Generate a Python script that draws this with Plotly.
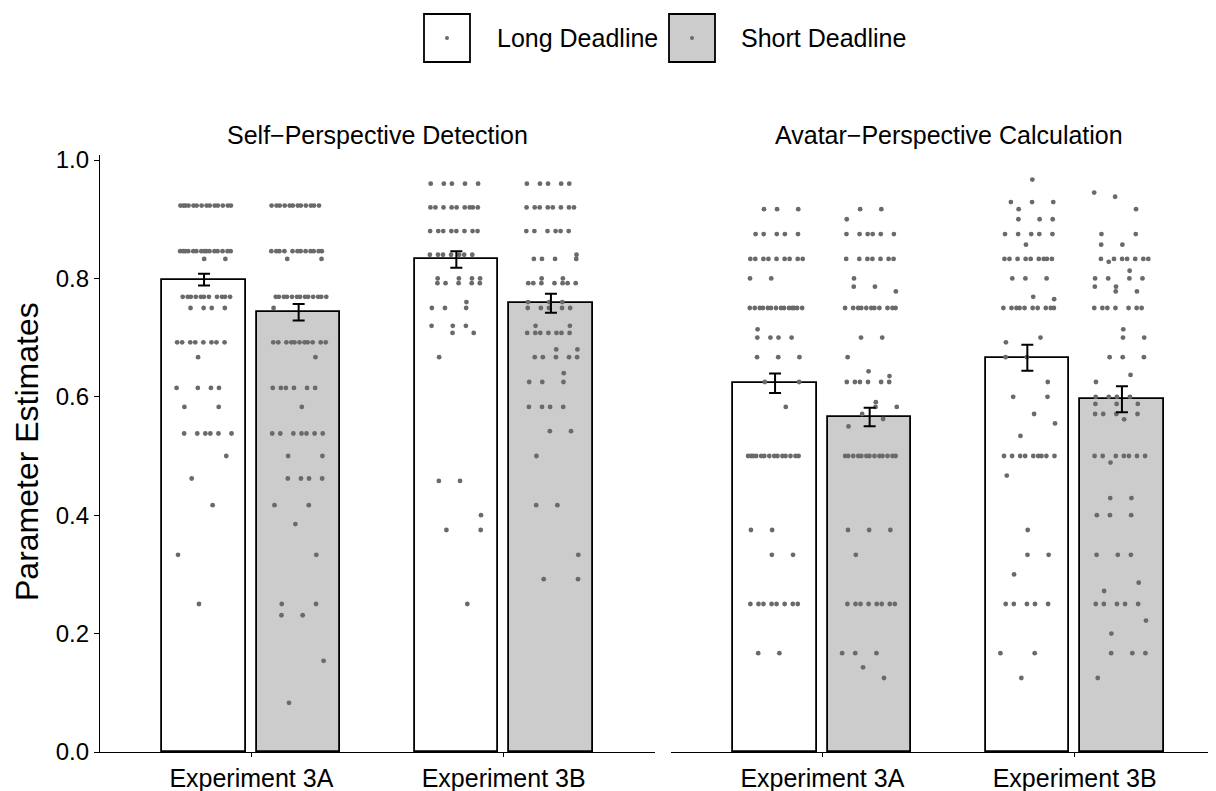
import plotly.graph_objects as go

# ---------------- data ----------------
FACETS = ["Self\u2212Perspective Detection", "Avatar\u2212Perspective Calculation"]
EXPERIMENTS = ["Experiment 3A", "Experiment 3B"]
CONDITIONS = ["Long Deadline", "Short Deadline"]

# bar means and standard errors  [Exp 3A, Exp 3B]
SELF_LONG_MEAN = [0.798, 0.832]
SELF_SHORT_MEAN = [0.743, 0.758]
SELF_LONG_SE = [0.010, 0.014]
SELF_SHORT_SE = [0.014, 0.016]
AVATAR_LONG_MEAN = [0.623, 0.666]
AVATAR_SHORT_MEAN = [0.566, 0.596]
AVATAR_LONG_SE = [0.0165, 0.022]
AVATAR_SHORT_SE = [0.0157, 0.022]

# individual estimates: distinct values and how many participants at each
SELF_3A_LONG_VALS = [0.923, 0.846, 0.833, 0.769, 0.75, 0.692, 0.667, 0.615, 0.583, 0.538, 0.5, 0.462, 0.417, 0.333, 0.25]
SELF_3A_LONG_CNT = [14, 15, 2, 11, 4, 8, 1, 4, 2, 6, 1, 1, 1, 1, 1]
SELF_3A_SHORT_VALS = [0.923, 0.846, 0.833, 0.769, 0.75, 0.692, 0.667, 0.615, 0.583, 0.538, 0.5, 0.462, 0.417, 0.385, 0.333, 0.25, 0.231, 0.154, 0.083]
SELF_3A_SHORT_CNT = [12, 12, 2, 13, 1, 11, 1, 6, 1, 7, 2, 4, 2, 1, 1, 2, 2, 1, 1]
SELF_3B_LONG_VALS = [0.96, 0.92, 0.88, 0.84, 0.80, 0.792, 0.76, 0.75, 0.72, 0.708, 0.667, 0.458, 0.40, 0.375, 0.25]
SELF_3B_LONG_CNT = [5, 9, 8, 7, 4, 5, 1, 3, 3, 2, 1, 2, 1, 2, 1]
SELF_3B_SHORT_VALS = [0.96, 0.92, 0.88, 0.84, 0.833, 0.80, 0.792, 0.76, 0.75, 0.72, 0.708, 0.68, 0.667, 0.64, 0.625, 0.583, 0.542, 0.50, 0.417, 0.333, 0.292]
SELF_3B_SHORT_CNT = [5, 8, 6, 1, 4, 2, 7, 3, 5, 2, 7, 2, 5, 1, 3, 4, 2, 1, 2, 1, 2]
AVATAR_3A_LONG_VALS = [0.917, 0.875, 0.833, 0.80, 0.75, 0.714, 0.70, 0.667, 0.625, 0.583, 0.5, 0.375, 0.333, 0.25, 0.167]
AVATAR_3A_LONG_CNT = [3, 5, 9, 2, 14, 1, 4, 3, 2, 1, 14, 2, 2, 8, 2]
AVATAR_3A_SHORT_VALS = [0.917, 0.90, 0.875, 0.833, 0.80, 0.786, 0.778, 0.75, 0.70, 0.667, 0.643, 0.635, 0.625, 0.591, 0.583, 0.571, 0.5625, 0.55, 0.5, 0.375, 0.333, 0.25, 0.167, 0.143, 0.125]
AVATAR_3A_SHORT_CNT = [2, 1, 6, 7, 1, 2, 1, 11, 2, 1, 1, 1, 6, 1, 2, 1, 1, 1, 13, 3, 1, 8, 3, 1, 1]
AVATAR_3B_LONG_VALS = [0.967, 0.929, 0.917, 0.90, 0.875, 0.857, 0.833, 0.80, 0.769, 0.765, 0.75, 0.70, 0.692, 0.667, 0.625, 0.60, 0.571, 0.555, 0.534, 0.5, 0.467, 0.375, 0.333, 0.30, 0.25, 0.167, 0.125]
AVATAR_3B_LONG_CNT = [1, 3, 1, 3, 5, 1, 9, 3, 1, 1, 10, 1, 1, 2, 1, 2, 1, 1, 1, 9, 1, 1, 2, 1, 5, 2, 1]
AVATAR_3B_SHORT_VALS = [0.945, 0.938, 0.917, 0.875, 0.857, 0.833, 0.828, 0.813, 0.80, 0.786, 0.778, 0.75, 0.714, 0.70, 0.667, 0.637, 0.625, 0.60, 0.588, 0.571, 0.562, 0.5, 0.489, 0.429, 0.40, 0.333, 0.286, 0.272, 0.25, 0.222, 0.20, 0.167, 0.125]
AVATAR_3B_SHORT_CNT = [1, 1, 1, 2, 2, 7, 1, 1, 4, 2, 2, 7, 1, 2, 3, 1, 1, 4, 3, 4, 1, 7, 1, 2, 3, 3, 1, 1, 5, 1, 1, 3, 1]

Y_TICKS = [0.0, 0.2, 0.4, 0.6, 0.8, 1.0]

# ---------------- styling / layout constants ----------------
PAGE_OFF = 8                      # default body margin of the html page
W, H = 1216 - PAGE_OFF, 791 - PAGE_OFF
ML, MR = 100 - PAGE_OFF, 0
MT = 155 - PAGE_OFF
MB = H - (752 - PAGE_OFF)
PW, PH = W - ML - MR, H - MT - MB
FONT = "Liberation Sans, Arial, sans-serif"
LONG_FILL, SHORT_FILL = "#ffffff", "#cccccc"
POINT_COLOR = "#6a6a6a"
GROUP_X = [1, 2]
DODGE = 0.1875
BAR_W = 0.33
JITTER_W = 0.22


def px_x(p):
    """page pixel x -> paper coordinate"""
    return (p - PAGE_OFF - ML) / PW


def px_y(p):
    """page pixel y -> paper coordinate"""
    return (H - MB - (p - PAGE_OFF)) / PH


def expand(vals, cnts):
    ys = []
    rows = []
    for r, (v, c) in enumerate(zip(vals, cnts)):
        ys += [v] * c
        rows += [(r, j) for j in range(c)]
    return ys, rows


def jitter(rows, center, seed):
    xs = []
    for r, j in rows:
        start = (seed + r * 0.377) % 1.0
        xs.append(center + ((start + j * 0.6180339887) % 1.0 - 0.5) * JITTER_W)
    return xs


fig = go.Figure()

panels = [
    ("x", "y", SELF_LONG_MEAN, SELF_SHORT_MEAN, SELF_LONG_SE, SELF_SHORT_SE,
     [(SELF_3A_LONG_VALS, SELF_3A_LONG_CNT), (SELF_3B_LONG_VALS, SELF_3B_LONG_CNT)],
     [(SELF_3A_SHORT_VALS, SELF_3A_SHORT_CNT), (SELF_3B_SHORT_VALS, SELF_3B_SHORT_CNT)]),
    ("x2", "y2", AVATAR_LONG_MEAN, AVATAR_SHORT_MEAN, AVATAR_LONG_SE, AVATAR_SHORT_SE,
     [(AVATAR_3A_LONG_VALS, AVATAR_3A_LONG_CNT), (AVATAR_3B_LONG_VALS, AVATAR_3B_LONG_CNT)],
     [(AVATAR_3A_SHORT_VALS, AVATAR_3A_SHORT_CNT), (AVATAR_3B_SHORT_VALS, AVATAR_3B_SHORT_CNT)]),
]

for pi, (xa, ya, lm, sm, lse, sse, lpts, spts) in enumerate(panels):
    lx = [g - DODGE for g in GROUP_X]
    sx = [g + DODGE for g in GROUP_X]
    fig.add_trace(go.Bar(x=lx, y=lm, width=BAR_W, xaxis=xa, yaxis=ya,
                         marker=dict(color=LONG_FILL, line=dict(color="black", width=1.8)),
                         showlegend=False, name=CONDITIONS[0]))
    fig.add_trace(go.Bar(x=sx, y=sm, width=BAR_W, xaxis=xa, yaxis=ya,
                         marker=dict(color=SHORT_FILL, line=dict(color="black", width=1.8)),
                         showlegend=False, name=CONDITIONS[1]))
    for gi in range(2):
        for ci, (pts, centers) in enumerate([(lpts, lx), (spts, sx)]):
            ys, rows = expand(*pts[gi])
            xs = jitter(rows, centers[gi], seed=0.13 + 0.29 * gi + 0.41 * ci + 0.17 * pi)
            fig.add_trace(go.Scatter(x=xs, y=ys, mode="markers", xaxis=xa, yaxis=ya,
                                     marker=dict(color=POINT_COLOR, size=4.8, line=dict(width=0)),
                                     showlegend=False, hoverinfo="y"))
    for centers, means, ses in [(lx, lm, lse), (sx, sm, sse)]:
        fig.add_trace(go.Scatter(x=centers, y=means, mode="markers", xaxis=xa, yaxis=ya,
                                 marker=dict(size=0.1, color="rgba(0,0,0,0)"),
                                 error_y=dict(type="data", array=ses, color="black",
                                              thickness=2, width=6),
                                 showlegend=False, hoverinfo="skip"))

left_dom = [0, px_x(655)]
right_dom = [px_x(671), 1]
units_per_px = 2.2 / (655 - 100)
right_max = 0.4 + (1216 - 671) * units_per_px

tickfont = dict(family=FONT, size=25, color="black")
common_x = dict(showgrid=False, zeroline=False, showline=True, linecolor="black", linewidth=1.4,
                ticks="outside", ticklen=4, tickwidth=1.4, tickcolor="black", automargin=False,
                tickvals=GROUP_X, ticktext=EXPERIMENTS, tickfont=tickfont)
fig.update_layout(
    width=W, height=H,
    margin=dict(l=ML, r=MR, t=MT, b=MB, autoexpand=False),
    paper_bgcolor="white", plot_bgcolor="white",
    barmode="overlay", bargap=0,
    font=dict(family=FONT, color="black"),
    xaxis=dict(domain=left_dom, range=[0.4, 2.6], anchor="y", **common_x),
    xaxis2=dict(domain=right_dom, range=[0.4, right_max], anchor="y2", **common_x),
    yaxis=dict(range=[0, 1.0085], tickvals=Y_TICKS, tickformat=".1f", showgrid=False,
               zeroline=False, showline=True, linecolor="black", linewidth=1.4,
               ticks="outside", ticklen=5, tickwidth=1.4, tickcolor="black",
               tickfont=dict(family=FONT, size=24, color="black"), anchor="x", automargin=False),
    yaxis2=dict(range=[0, 1.0085], matches="y", showgrid=False, zeroline=False,
                showline=False, showticklabels=False, ticks="", anchor="x2", automargin=False),
)

annotations = [
    dict(text=FACETS[0], x=(left_dom[0] + left_dom[1]) / 2, y=px_y(135), xref="paper", yref="paper",
         showarrow=False, font=dict(family=FONT, size=25, color="black"), xanchor="center", yanchor="middle"),
    dict(text=FACETS[1], x=(right_dom[0] + px_x(1226)) / 2, y=px_y(135), xref="paper", yref="paper",
         showarrow=False, font=dict(family=FONT, size=25, color="black"), xanchor="center", yanchor="middle"),
    dict(text="Parameter Estimates", x=px_x(27), y=px_y(452), xref="paper", yref="paper",
         textangle=-90, showarrow=False, font=dict(family=FONT, size=32, color="black"),
         xanchor="center", yanchor="middle"),
]

# legend drawn manually (large keys like the reference)
shapes = []
legend_items = [(CONDITIONS[0], LONG_FILL, 424, 470, 495), (CONDITIONS[1], SHORT_FILL, 669, 715, 739)]
for label, fill, x0, x1, tx in legend_items:
    shapes.append(dict(type="rect", xref="paper", yref="paper", x0=px_x(x0), x1=px_x(x1),
                       y0=px_y(62), y1=px_y(14), fillcolor=fill, line=dict(color="black", width=1.8)))
    cx, cy = (x0 + x1) / 2, 38
    shapes.append(dict(type="circle", xref="paper", yref="paper", x0=px_x(cx - 2), x1=px_x(cx + 2),
                       y0=px_y(cy + 2), y1=px_y(cy - 2), fillcolor=POINT_COLOR, line=dict(width=0)))
    annotations.append(dict(text=label, x=px_x(tx), y=px_y(38), xref="paper", yref="paper",
                            showarrow=False, xanchor="left", yanchor="middle",
                            font=dict(family=FONT, size=25, color="black")))

fig.update_layout(annotations=annotations, shapes=shapes)
fig.write_html("out.html")
